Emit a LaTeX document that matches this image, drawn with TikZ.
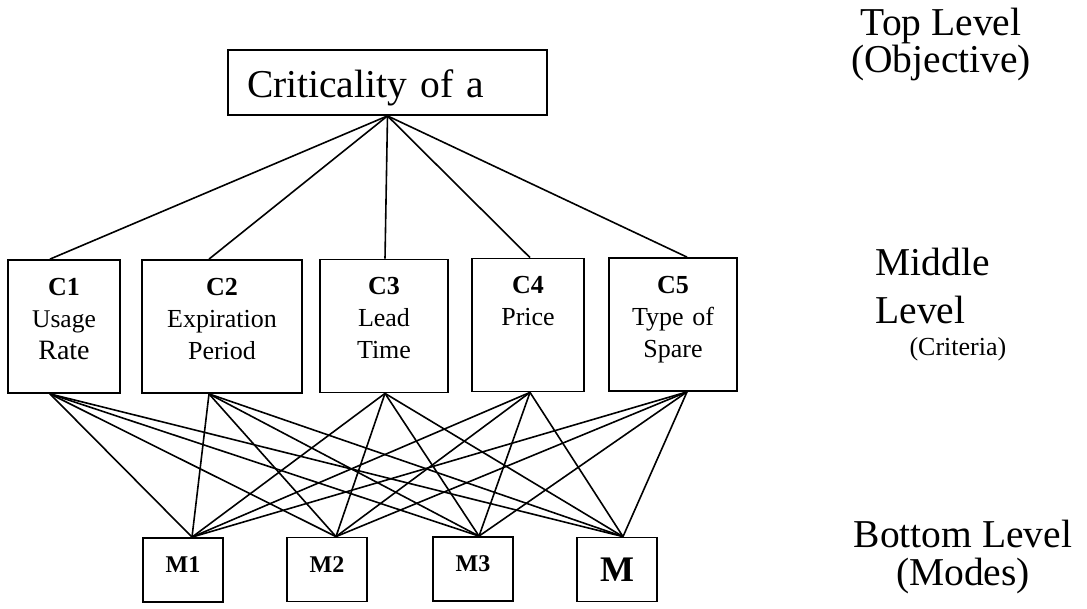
\documentclass[tikz,border=0pt]{standalone}
\usepackage{fontspec}
\setmainfont{Liberation Serif}
\begin{document}
\begin{tikzpicture}[x=1pt,y=-1pt,
  box/.style={draw,line width=1.8pt,inner sep=0pt},
  crit/.style={box,text width=#1,align=center,text height=35pt,text depth=98pt,
    font=\fontsize{26}{32}\selectfont},
  mode/.style={box,minimum width=80pt,minimum height=64pt,text depth=10pt,
    font=\bfseries\fontsize{24}{28}\selectfont},
  lvl/.style={anchor=base,align=center,font=\fontsize{39.5}{37}\selectfont},
  link/.style={line width=1.6pt}]
  \useasboundingbox (0,0) rectangle (1087,608);

  \node[box,minimum height=65pt,text width=281pt,inner xsep=19pt,align=left,
    text height=29pt,text depth=0pt,font=\fontsize{39.5}{40}\selectfont] (top) at (387.5,82.5) {Criticality of a};

  \node[crit=112pt] (c1) at (64,326.5) {\textbf{C1}\\{\fontsize{25.5}{30}\selectfont Usage}\\{\fontsize{28}{35}\selectfont Rate}};
  \node[crit=160pt] (c2) at (222,326.5) {\textbf{C2}\\Expiration\\Period};
  \node[crit=128pt] (c3) at (384,326) {\textbf{C3}\\Lead\\Time};
  \node[crit=112pt] (c4) at (528,325) {\textbf{C4}\\Price};
  \node[crit=128pt] (c5) at (673,324.5) {\textbf{C5}\\Type of\\Spare};

  \node[mode] (m1) at (183,570) {M1};
  \node[mode] (m2) at (327,569.5) {M2};
  \node[mode] (m3) at (473,569) {M3};
  \node[mode,text depth=0pt,font=\bfseries\fontsize{36}{40}\selectfont] (m4) at (617,569.5) {M};

  \foreach \c/\dx in {1/-14,2/-13,3/1,4/2,5/14}
    \draw[link] (top.south) -- ([xshift=\dx pt]c\c.north);

  \foreach \c/\dx in {1/-14,2/-13,3/1,4/2,5/14}
    \foreach \m/\mx in {1/9,2/9,3/6,4/6}
      \draw[link] ([xshift=\dx pt]c\c.south) -- ([xshift=\mx pt]m\m.north);

  \node[lvl] (toplbl) at (941,72) {Top Level\\(Objective)};
  \node[lvl,anchor=base west,align=left,font=\fontsize{39.5}{48}\selectfont] (midlbl) at (872,323) {Middle\\Level};
  \node[anchor=base west,font=\fontsize{26}{30}\selectfont] (critlbl) at (906,355) {(Criteria)};
  \node[lvl,font=\fontsize{39.5}{38}\selectfont] (botlbl) at (963,585) {Bottom Level\\(Modes)};
\end{tikzpicture}
\end{document}
